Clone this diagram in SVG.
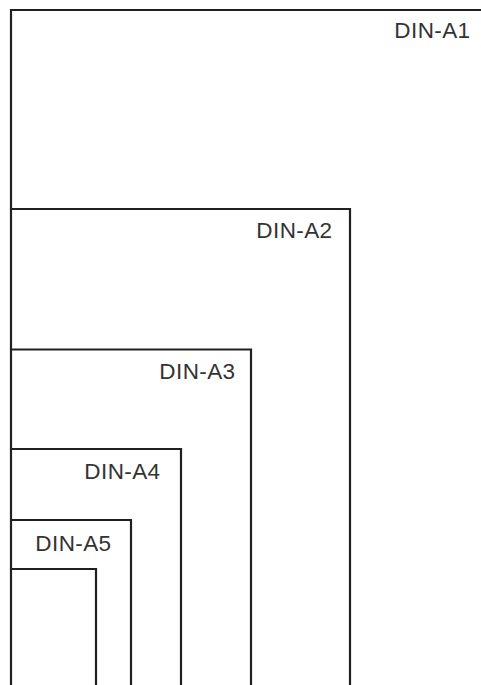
<svg xmlns="http://www.w3.org/2000/svg" width="481" height="685" viewBox="0 0 481 685">
<style>
.sheet{fill:none;stroke:#231f20;stroke-width:2.2;stroke-linejoin:miter;stroke-linecap:butt}
.lbl{font-family:"Liberation Sans",Arial,sans-serif;font-size:22.5px;fill:#333333;text-anchor:end;letter-spacing:0.4px}
</style>
<rect width="481" height="685" fill="#ffffff"/>
<g id="a1"><path class="sheet" d="M11,686 V10 H482"/><text class="lbl" x="470.5" y="38">DIN-A1</text></g>
<g id="a2"><path class="sheet" d="M11,209 H350 V686"/><text class="lbl" x="332.5" y="237.5">DIN-A2</text></g>
<g id="a3"><path class="sheet" d="M11,349.5 H251 V686"/><text class="lbl" x="235.5" y="378.5">DIN-A3</text></g>
<g id="a4"><path class="sheet" d="M11,449 H181 V686"/><text class="lbl" x="160.5" y="478.5">DIN-A4</text></g>
<g id="a5"><path class="sheet" d="M11,520 H131 V686"/><text class="lbl" x="111.5" y="550.5">DIN-A5</text></g>
<g id="a6"><path class="sheet" d="M11,569 H96 V686"/></g>
</svg>
